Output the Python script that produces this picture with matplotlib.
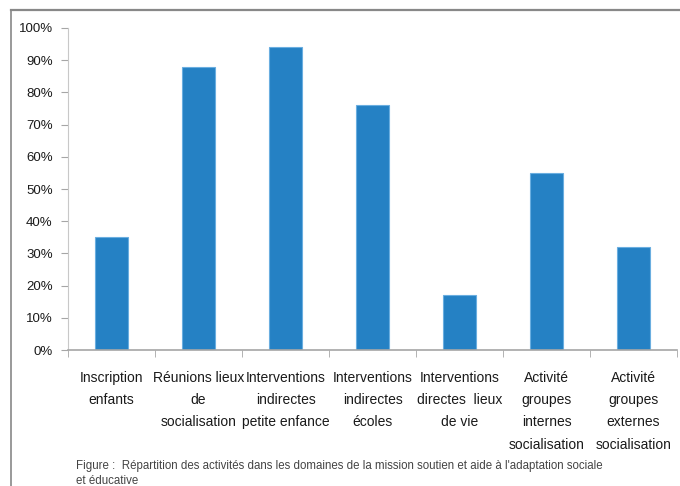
import matplotlib.pyplot as plt
from matplotlib.lines import Line2D
from matplotlib.ticker import PercentFormatter, MultipleLocator, FixedLocator
import numpy as np

# activités de la mission soutien et aide à l'adaptation sociale
activites = ['Inscription\nenfants',
             'Réunions lieux\nde\nsocialisation',
             'Interventions\nindirectes\npetite enfance',
             'Interventions\nindirectes\nécoles',
             'Interventions\ndirectes  lieux\nde vie',
             'Activité\ngroupes\ninternes\nsocialisation',
             'Activité\ngroupes\nexternes\nsocialisation']
pourcentages = [35, 88, 94, 76, 17, 55, 32]

plt.rcParams['font.family'] = ['Liberation Sans', 'DejaVu Sans']

fig = plt.figure(figsize=(6.8, 4.86), dpi=100)
ax = fig.add_axes([0.1, 0.2798, 0.8956, 0.6626])

x = np.arange(len(activites))
ax.bar(x, pourcentages, width=0.39, color='#2581C4', edgecolor='#6aaee0', linewidth=0.8)

ax.set_xlim(-0.5, len(activites) - 0.5)
ax.set_ylim(0, 100)
ax.yaxis.set_major_locator(MultipleLocator(10))
ax.yaxis.set_major_formatter(PercentFormatter(decimals=0))

ax.set_xticks(x)
ax.set_xticklabels(activites, fontsize=10, color='#1a1a1a', linespacing=1.75, va='top')
ax.xaxis.set_minor_locator(FixedLocator(np.arange(len(activites) + 1) - 0.5))
ax.tick_params(axis='x', which='major', length=0, pad=15)
ax.tick_params(axis='x', which='minor', length=5, color='#a6a6a6', direction='out')
ax.tick_params(axis='y', length=5, color='#a6a6a6', labelsize=9.5, labelcolor='#1a1a1a', pad=6)

for s in ['top', 'right']:
    ax.spines[s].set_visible(False)
ax.spines['left'].set_color('#c8c8c8')
ax.spines['bottom'].set_color('#a6a6a6')
ax.spines['bottom'].set_linewidth(1.2)

# cadre autour du graphique
fig.add_artist(Line2D([11 / 680, 1], [1 - 10 / 486, 1 - 10 / 486], color='#888888', linewidth=1.6))
fig.add_artist(Line2D([11 / 680, 11 / 680], [0, 1 - 10 / 486], color='#888888', linewidth=1.2))

fig.text(0.112, 1 - 460 / 486,
         "Figure :  Répartition des activités dans les domaines de la mission soutien et aide à l'adaptation sociale\net éducative",
         fontsize=8.3, color='#444444', va='top', linespacing=1.35)

fig.savefig('out.png', dpi=100, facecolor='white')
